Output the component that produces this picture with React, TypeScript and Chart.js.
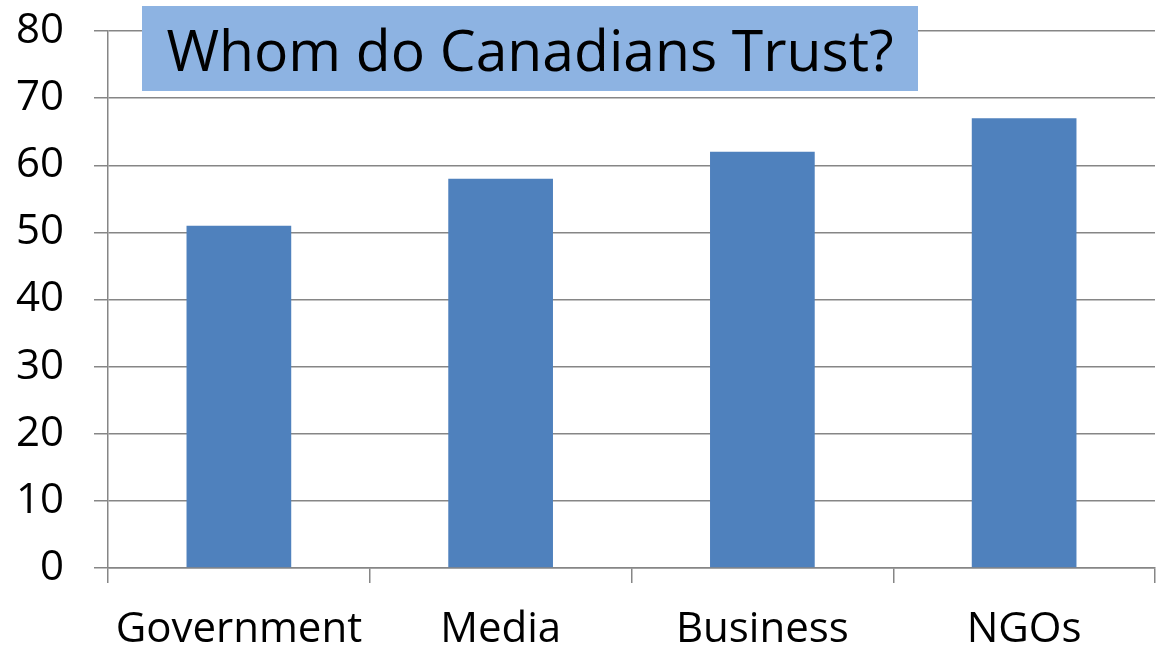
import React, { useEffect, useRef } from "react";
import { Chart, registerables } from "chart.js";

Chart.register(...registerables);

const categories = ["Government", "Media", "Business", "NGOs"];
const trustValues = [51, 58, 62, 67];
const yTicks = [0, 10, 20, 30, 40, 50, 60, 70, 80];
const titleText = "Whom do Canadians Trust?";

const FONT = "'Open Sans', 'Noto Sans', sans-serif";

export default function App() {
  const canvasRef = useRef<HTMLCanvasElement | null>(null);

  useEffect(() => {
    if (!canvasRef.current) return;
    const chart = new Chart(canvasRef.current, {
      type: "bar",
      data: {
        labels: categories,
        datasets: [
          {
            data: trustValues,
            backgroundColor: "#4F81BD",
            borderWidth: 0,
            barPercentage: 0.4,
            categoryPercentage: 1,
          },
        ],
      },
      options: {
        responsive: false,
        animation: false,
        devicePixelRatio: 1,
        layout: { padding: { top: 31, right: 6, left: 0, bottom: 0 } },
        plugins: {
          legend: { display: false },
          tooltip: { enabled: false },
          title: { display: false },
        },
        scales: {
          x: {
            offset: true,
            grid: {
              offset: true,
              drawOnChartArea: false,
              drawTicks: true,
              tickLength: 15,
              color: "#868686",
              lineWidth: 1.5,
            },
            border: { display: true, color: "#868686", width: 1.5 },
            ticks: {
              color: "#000",
              font: { family: FONT, size: 42 },
              padding: 22,
              maxRotation: 0,
              autoSkip: false,
            },
            afterFit: (scale: any) => {
              scale.height = 82;
              scale.paddingLeft = 0;
              scale.paddingRight = 0;
            },
          },
          y: {
            min: 0,
            max: 80,
            afterBuildTicks: (scale: any) => {
              scale.ticks = yTicks.map((v) => ({ value: v }));
            },
            grid: {
              color: "#868686",
              lineWidth: 1.5,
              drawTicks: true,
              tickLength: 14,
            },
            border: { display: true, color: "#868686", width: 1.5 },
            ticks: {
              color: "#000",
              font: { family: FONT, size: 42 },
              padding: 30,
            },
            afterFit: (scale: any) => {
              scale.width = 108;
              scale.paddingTop = 0;
              scale.paddingBottom = 0;
            },
          },
        },
      },
    });
    return () => chart.destroy();
  }, []);

  return (
    <div
      style={{
        position: "absolute",
        left: 0,
        top: 0,
        width: 1161,
        height: 650,
        background: "#fff",
      }}
    >
      <canvas ref={canvasRef} width={1161} height={650} style={{ display: "block" }} />
      <div
        style={{
          position: "absolute",
          left: 142,
          top: 6,
          width: 776,
          height: 85,
          background: "#8DB3E2",
          display: "flex",
          alignItems: "center",
          justifyContent: "center",
          fontFamily: FONT,
          fontSize: 57,
          color: "#000",
          whiteSpace: "nowrap",
        }}
      >
        {titleText}
      </div>
    </div>
  );
}
